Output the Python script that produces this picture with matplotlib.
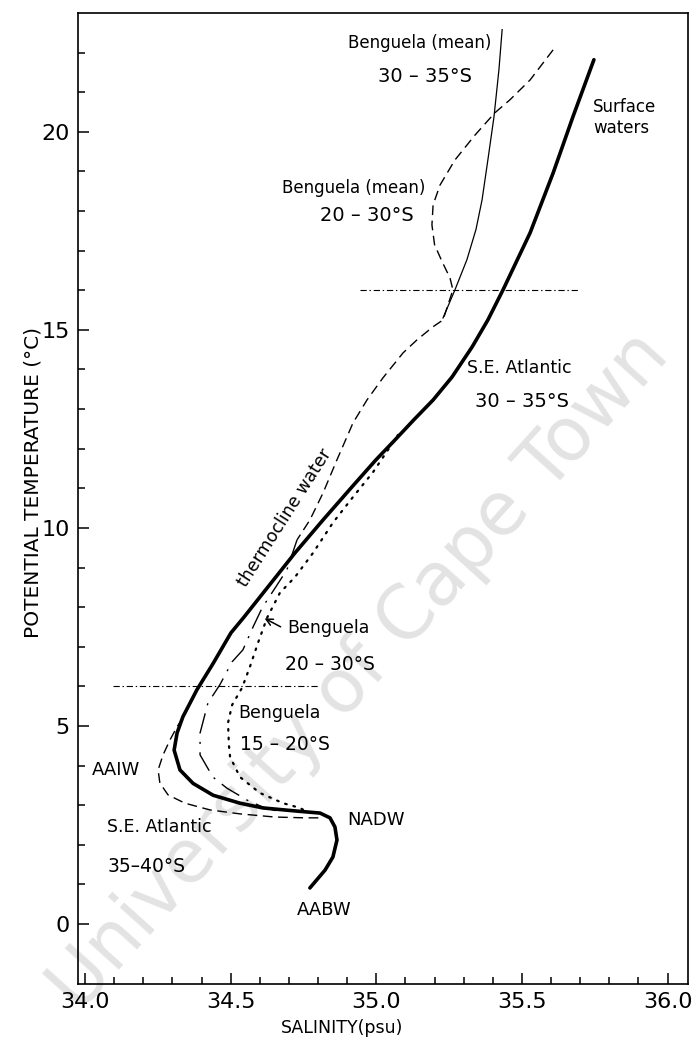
import matplotlib
matplotlib.use("Agg")
import matplotlib.pyplot as plt
from matplotlib.ticker import FixedLocator

plt.rcParams['font.family'] = ['DejaVu Sans']
plt.rcParams['lines.scale_dashes'] = False

# ---------------- data (salinity psu, potential temperature degC) ----------------
# S.E. Atlantic 30-35S (thick solid)
se_atl_S = [35.747, 35.675, 35.607, 35.528, 35.435, 35.383, 35.329, 35.260, 35.195, 35.129,
            35.064, 34.999, 34.917, 34.817, 34.721, 34.628, 34.546, 34.501, 34.440, 34.384,
            34.336, 34.316, 34.306, 34.326, 34.371, 34.440, 34.532, 34.611, 34.728, 34.807,
            34.841, 34.858, 34.865, 34.851, 34.824, 34.772]
se_atl_T = [21.82, 20.38, 18.96, 17.45, 16.01, 15.25, 14.57, 13.81, 13.23, 12.73,
            12.22, 11.72, 11.04, 10.20, 9.37, 8.51, 7.75, 7.35, 6.58, 5.91,
            5.23, 4.82, 4.39, 3.89, 3.55, 3.25, 3.05, 2.93, 2.85, 2.80,
            2.68, 2.45, 2.12, 1.69, 1.36, 0.91]

# Benguela (mean) 30-35S (thin solid)
bm3035_S = [35.432, 35.421, 35.404, 35.383, 35.363, 35.342, 35.311, 35.270, 35.229]
bm3035_T = [22.58, 21.57, 20.38, 19.29, 18.28, 17.53, 16.77, 16.01, 15.30]

# Benguela (mean) 20-30S (dashed, upper + thermocline)
bm2030_S = [35.607, 35.528, 35.459, 35.407, 35.339, 35.270, 35.219, 35.195, 35.191, 35.200,
            35.226, 35.253, 35.263, 35.229, 35.195, 35.140, 35.092, 35.023, 34.968, 34.920,
            34.865, 34.817, 34.772, 34.728]
bm2030_T = [22.07, 21.31, 20.81, 20.48, 19.92, 19.29, 18.66, 18.16, 17.65, 17.15,
            16.72, 16.31, 16.01, 15.25, 15.08, 14.75, 14.42, 13.79, 13.23, 12.65,
            11.72, 10.88, 10.20, 9.70]

# Benguela 20-30S (long dash-dot, lower)
b2030_S = [34.728, 34.693, 34.608, 34.577, 34.542, 34.505, 34.463, 34.422, 34.395, 34.395,
           34.439, 34.487, 34.556, 34.611, 34.670]
b2030_T = [9.70, 8.94, 7.98, 7.50, 6.92, 6.62, 6.04, 5.58, 4.82, 4.27,
           3.71, 3.43, 3.13, 2.95, 2.83]

# Benguela 15-20S (dotted)
b1520_S = [35.075, 34.989, 34.920, 34.851, 34.783, 34.721, 34.669, 34.625, 34.594, 34.566,
           34.539, 34.505, 34.491, 34.494, 34.498, 34.532, 34.600, 34.680, 34.738, 34.750]
b1520_T = [12.35, 11.41, 10.78, 10.13, 9.37, 8.76, 8.36, 7.73, 7.10, 6.49,
           5.96, 5.53, 5.08, 4.52, 4.22, 3.71, 3.31, 3.05, 2.93, 2.88]

# S.E. Atlantic 35-40S (dashed)
se3540_S = [34.336, 34.316, 34.292, 34.268, 34.251, 34.257, 34.285, 34.343, 34.429, 34.532,
            34.652, 34.755, 34.807]
se3540_T = [5.20, 4.98, 4.65, 4.27, 3.89, 3.56, 3.26, 3.05, 2.88, 2.78,
            2.70, 2.68, 2.68]

# horizontal reference lines (dash-dot)
ref_upper_S = [34.944, 35.692]
ref_upper_T = 16.0
ref_lower_S = [34.096, 34.800]
ref_lower_T = 6.0

x_major = [34.0, 34.5, 35.0, 35.5, 36.0]
x_labels = ["34.0", "34.5", "35.0", "35.5", "36.0"]
x_minor = [34.1, 34.2, 34.3, 34.4, 34.6, 34.7, 34.8, 34.9, 35.1, 35.2, 35.3, 35.4,
           35.6, 35.7, 35.8, 35.9]
y_major = [0, 5, 10, 15, 20]
y_minor = [1, 2, 3, 4, 6, 7, 8, 9, 11, 12, 13, 14, 16, 17, 18, 19, 21, 22]

# ---------------- figure ----------------
W, H = 696, 1050
fig = plt.figure(figsize=(W / 100, H / 100), dpi=100)
L, R, T, B = 78, 688, 13, 984
ax = fig.add_axes([L / W, 1 - B / H, (R - L) / W, (B - T) / H])
ax.set_xlim(33.976, 36.070)
ax.set_ylim(-1.515, 23.0)

# watermark (behind the data)
ax.text(360 / W, 1 - 672 / H, "University of Cape Town", fontsize=53, color="#e3e3e3",
        rotation=48, ha="center", va="center", rotation_mode="anchor",
        transform=fig.transFigure, zorder=0.5, clip_on=False)

k = 'black'
ax.plot(se_atl_S, se_atl_T, color=k, lw=2.6, solid_capstyle='round', solid_joinstyle='round')
ax.plot(bm3035_S, bm3035_T, color=k, lw=0.9)
ax.plot(bm2030_S, bm2030_T, color=k, lw=1.0, dashes=(7, 4))
ax.plot(b2030_S, b2030_T, color=k, lw=1.0, dashes=(15, 6, 1.5, 6))
ax.plot(b1520_S, b1520_T, color=k, lw=1.6, dashes=(1.2, 5), dash_capstyle='round')
ax.plot(se3540_S, se3540_T, color=k, lw=1.0, dashes=(7, 4))
ax.plot(ref_upper_S, [ref_upper_T] * 2, color=k, lw=0.8, dashes=(4.5, 2, 1, 2))
ax.plot(ref_lower_S, [ref_lower_T] * 2, color=k, lw=0.8, dashes=(4.5, 2, 1, 2))

# arrow
ax.annotate("", xy=(34.608, 7.75), xytext=(34.680, 7.47),
            arrowprops=dict(arrowstyle='->', color=k, lw=1.1, mutation_scale=12))

def px(x, y):
    return 34 + (x - 85) / 291.3, (924 - y) / 39.6

def lab(x, y, s, size=12.5, ha='center', **kw):
    sx, sy = px(x, y)
    ax.text(sx, sy, s, fontsize=size, ha=ha, va='center', color=k, zorder=3, **kw)

lab(420, 43, "Benguela (mean)", 12)
lab(425, 77, "30 – 35°S", 14)
lab(593, 107, "Surface", 12, ha='left')
lab(593, 128, "waters", 12, ha='left')
lab(354, 188, "Benguela (mean)", 12)
lab(367, 216, "20 – 30°S", 14)
lab(467, 368, "S.E. Atlantic", 12.5, ha='left')
lab(475, 402, "30 – 35°S", 14, ha='left')
lab(285, 518, "thermocline water", 12.5, rotation=57.5, rotation_mode='anchor')
lab(287, 628, "Benguela", 12.5, ha='left')
lab(285, 665, "20 – 30°S", 13.5, ha='left')
lab(238, 713, "Benguela", 12.5, ha='left')
lab(240, 745, "15 – 20°S", 13.5, ha='left')
lab(92, 770, "AAIW", 13, ha='left')
lab(107, 827, "S.E. Atlantic", 12.5, ha='left')
lab(108, 867, "35–40°S", 13.5, ha='left')
lab(347, 820, "NADW", 13, ha='left')
lab(297, 910, "AABW", 13, ha='left')

# axes styling
for sp in ax.spines.values():
    sp.set_linewidth(1.2)
ax.xaxis.set_major_locator(FixedLocator(x_major))
ax.xaxis.set_minor_locator(FixedLocator(x_minor))
ax.yaxis.set_major_locator(FixedLocator(y_major))
ax.yaxis.set_minor_locator(FixedLocator(y_minor))
ax.set_xticklabels(x_labels)
ax.tick_params(which='both', direction='in', top=False, right=False, width=1.1,
               labelsize=16, colors=k)
ax.tick_params(which='major', length=8, pad=6)
ax.tick_params(which='minor', length=5)

ax.set_xlabel("SALINITY(psu)", fontsize=12.5, va='center')
ax.xaxis.set_label_coords((342 - L) / (R - L), (B - 1028) / (B - T))
ax.set_ylabel("POTENTIAL TEMPERATURE (°C)", fontsize=14.5, va='center')
ax.yaxis.set_label_coords((33 - L) / (R - L), (B - 483) / (B - T))

fig.savefig("out.png", dpi=100)
